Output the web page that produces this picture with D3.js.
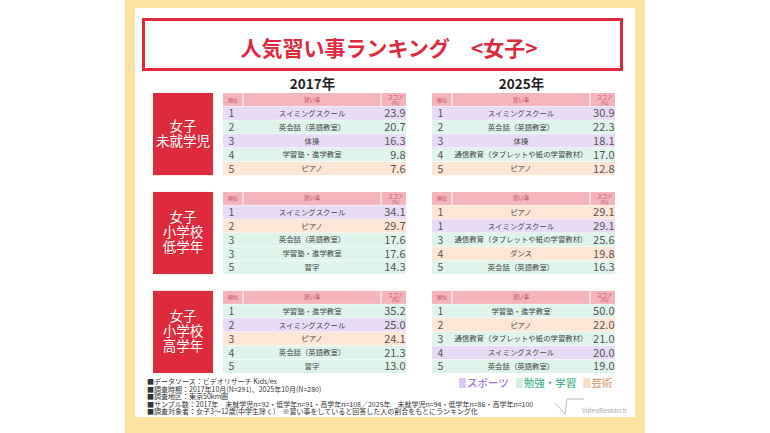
<!DOCTYPE html>
<html>
<head>
<meta charset="utf-8">
<script src="https://cdn.jsdelivr.net/npm/d3@7"></script>
<style>
  body { margin: 0; background: #fff; }
  text { font-family: "Noto Sans CJK JP", "Noto Sans", sans-serif; }
</style>
</head>
<body>
<svg id="chart"></svg>
<script>
const titleText = "人気習い事ランキング　<女子>";
const years = ["2017年", "2025年"];
const groupLabels = [["女子", "未就学児"], ["女子", "小学校", "低学年"], ["女子", "小学校", "高学年"]];
const headerLabels = ["順位", "習い事", "スコア", "(%)"];

const ranks2017 = [[1, 2, 3, 4, 5], [1, 2, 3, 3, 5], [1, 2, 3, 4, 5]];
const items2017 = [
	["スイミングスクール", "英会話（英語教室）", "体操", "学習塾・進学教室", "ピアノ"],
	["スイミングスクール", "ピアノ", "英会話（英語教室）", "学習塾・進学教室", "習字"],
	["学習塾・進学教室", "スイミングスクール", "ピアノ", "英会話（英語教室）", "習字"]
];
const scores2017 = [[23.9, 20.7, 16.3, 9.8, 7.6], [34.1, 29.7, 17.6, 17.6, 14.3], [35.2, 25.0, 24.1, 21.3, 13.0]];

const ranks2025 = [[1, 2, 3, 4, 5], [1, 1, 3, 4, 5], [1, 2, 3, 4, 5]];
const items2025 = [
	["スイミングスクール", "英会話（英語教室）", "体操", "通信教育（タブレットや紙の学習教材）", "ピアノ"],
	["ピアノ", "スイミングスクール", "通信教育（タブレットや紙の学習教材）", "ダンス", "英会話（英語教室）"],
	["学習塾・進学教室", "ピアノ", "通信教育（タブレットや紙の学習教材）", "スイミングスクール", "英会話（英語教室）"]
];
const scores2025 = [[30.9, 22.3, 18.1, 17.0, 12.8], [29.1, 29.1, 25.6, 19.8, 16.3], [50.0, 22.0, 21.0, 20.0, 19.0]];

const categories = ["スポーツ", "勉強・学習", "芸術"];
const sportsItems = ["スイミングスクール", "体操"];
const studyItems = ["英会話（英語教室）", "学習塾・進学教室", "通信教育（タブレットや紙の学習教材）", "習字"];
const artItems = ["ピアノ", "ダンス"];

const notes = [
	"■データソース：ビデオリサーチ Kids/ex",
	"■調査時期：2017年10月(N=291)、2025年10月(N=280)",
	"■調査地区：東京50km圏",
	"■サンプル数：2017年　未就学児n=92・低学年n=91・高学年n=108／2025年　未就学児n=94・低学年n=86・高学年n=100",
	"■調査対象者：女子3～12歳(中学生除く)　※習い事をしていると回答した人の割合をもとにランキング化"
];

const width = 770, height = 433;
const red = "#dd2a3c";

const categoryOf = name =>
	sportsItems.includes(name) ? categories[0] : studyItems.includes(name) ? categories[1] : categories[2];

const rowFill = d3.scaleOrdinal().domain(categories).range(["#e8dbf6", "#dff4eb", "#fde6d5"]);
const legendText = d3.scaleOrdinal().domain(categories).range(["#a56bd6", "#4db48e", "#dea27a"]);
const legendSwatch = d3.scaleOrdinal().domain(categories).range(["#dccaf0", "#d3efe2", "#fbdcc5"]);

const svg = d3.select("#chart")
	.attr("width", width)
	.attr("height", height);

// yellow frame + white panel
svg.append("rect").attr("x", 125).attr("y", 0).attr("width", 520).attr("height", height).attr("fill", "#fde3a1");
svg.append("rect").attr("x", 135).attr("y", 8).attr("width", 500).attr("height", 409).attr("fill", "#fff");

// title
svg.append("rect")
	.attr("x", 143.5).attr("y", 19.5).attr("width", 478).attr("height", 50)
	.attr("fill", "#fff").attr("stroke", red).attr("stroke-width", 3);
svg.append("text")
	.attr("x", 389).attr("y", 56)
	.attr("text-anchor", "middle")
	.attr("font-size", 21).attr("font-weight", 700)
	.attr("fill", red)
	.text(titleText);

const groupY = d3.scaleBand().domain(d3.range(groupLabels.length)).range([93, 373]).paddingInner(0.17);
const tableX = d3.scaleBand().domain(years).range([223, 615]).paddingInner(0.124);
const headerH = 13;
const rowY = d3.scaleBand().domain(d3.range(5)).range([headerH, groupY.bandwidth()]);
const tw = tableX.bandwidth();
const rankW = 20, scoreW = 25;

// year headings
svg.append("g").selectAll("text")
	.data(years)
	.join("text")
	.attr("x", d => tableX(d) + tw / 2 - 2)
	.attr("y", 89)
	.attr("text-anchor", "middle")
	.attr("font-size", 13.5).attr("font-weight", 700)
	.attr("fill", "#222")
	.text(d => d);

// group labels (one text per box, lines as tspans)
const labelG = svg.append("g").selectAll("g")
	.data(groupLabels)
	.join("g")
	.attr("transform", (d, i) => `translate(153,${groupY(i)})`);
labelG.append("rect")
	.attr("width", 60).attr("height", groupY.bandwidth())
	.attr("fill", red);
const lh = 15;
labelG.append("text")
	.attr("text-anchor", "middle")
	.attr("font-size", 13.5)
	.attr("fill", "#fff")
	.selectAll("tspan")
	.data(lines => lines.map((t, i) => ({ t, i, n: lines.length })))
	.join("tspan")
	.attr("x", 30)
	.attr("y", d => groupY.bandwidth() / 2 - (d.n - 1) * lh / 2 + d.i * lh + 4.5)
	.text(d => d.t);

const tables = [];
years.forEach((year, yi) => {
	const ranks = yi === 0 ? ranks2017 : ranks2025;
	const items = yi === 0 ? items2017 : items2025;
	const scores = yi === 0 ? scores2017 : scores2025;
	groupLabels.forEach((_, gi) => {
		tables.push({
			year, gi,
			rows: items[gi].map((name, ri) => ({ rank: ranks[gi][ri], name, score: scores[gi][ri], ri }))
		});
	});
});

const table = svg.append("g").selectAll("g")
	.data(tables)
	.join("g")
	.attr("transform", d => `translate(${tableX(d.year)},${groupY(d.gi)})`);

// header
table.append("rect")
	.attr("width", tw).attr("height", headerH)
	.attr("fill", "#f3b4bc");
table.append("line")
	.attr("x1", rankW).attr("x2", rankW).attr("y1", 0).attr("y2", headerH)
	.attr("stroke", "#fff").attr("stroke-width", 1);
table.append("line")
	.attr("x1", tw - scoreW).attr("x2", tw - scoreW).attr("y1", 0).attr("y2", headerH)
	.attr("stroke", "#fff").attr("stroke-width", 1);
table.append("text")
	.attr("x", rankW / 2).attr("y", 8.5)
	.attr("text-anchor", "middle").attr("font-size", 5).attr("fill", "#c04a5c")
	.text(headerLabels[0]);
table.append("text")
	.attr("x", (rankW + tw - scoreW) / 2).attr("y", 8.5)
	.attr("text-anchor", "middle").attr("font-size", 5.5).attr("fill", "#c04a5c")
	.text(headerLabels[1]);
const scoreHead = table.append("text")
	.attr("text-anchor", "middle").attr("font-size", 5).attr("fill", "#c04a5c");
scoreHead.append("tspan")
	.attr("x", tw - scoreW / 2 + 2).attr("y", 5.8)
	.text(headerLabels[2]);
scoreHead.append("tspan")
	.attr("x", tw - scoreW / 2 + 2).attr("y", 11.6)
	.text(headerLabels[3]);

// rows
const row = table.selectAll("g.row")
	.data(d => d.rows)
	.join("g")
	.attr("class", "row")
	.attr("transform", d => `translate(0,${rowY(d.ri)})`);
row.append("rect")
	.attr("y", 0.5)
	.attr("width", tw).attr("height", rowY.bandwidth() - 0.5)
	.attr("fill", d => rowFill(categoryOf(d.name)));
const cy = rowY.bandwidth() / 2 + 0.3;
row.append("text")
	.attr("x", 5.5).attr("y", cy + 4)
	.attr("font-size", 10.5).attr("fill", "#555")
	.text(d => d.rank);
row.append("text")
	.attr("x", (rankW + tw - scoreW) / 2).attr("y", cy + 2.7)
	.attr("text-anchor", "middle")
	.attr("font-size", 7.4).attr("fill", "#444")
	.text(d => d.name);
row.append("text")
	.attr("x", tw - 0.5).attr("y", cy + 4)
	.attr("text-anchor", "end")
	.attr("font-size", 11).attr("fill", "#555")
	.text(d => d.score.toFixed(1));

// notes (one text block, lines as tspans)
svg.append("text")
	.attr("font-size", 7).attr("fill", "#333")
	.selectAll("tspan")
	.data(notes)
	.join("tspan")
	.attr("x", 147)
	.attr("y", (d, i) => 384 + i * 7.6)
	.text(d => d);

// legend
const legend = svg.append("g").attr("transform", "translate(459,387)");
let lx = 0;
categories.forEach(c => {
	legend.append("rect")
		.attr("x", lx).attr("y", -9).attr("width", 7).attr("height", 10)
		.attr("fill", legendSwatch(c));
	const t = legend.append("text")
		.attr("x", lx + 8).attr("y", 0)
		.attr("font-size", 10.5).attr("font-weight", 500)
		.attr("fill", legendText(c))
		.text(c);
	lx += 8 + t.node().getComputedTextLength() + 7;
});

// logo
svg.append("path")
	.attr("d", "M555,403 L565,414 L567,399 L584,399")
	.attr("fill", "none").attr("stroke", "#bbb").attr("stroke-width", 1);
svg.append("text")
	.attr("x", 582).attr("y", 413)
	.attr("font-size", 6.5).attr("fill", "#aaa")
	.attr("font-family", "Lato, sans-serif")
	.text("VideoResearch");
</script>
</body>
</html>
